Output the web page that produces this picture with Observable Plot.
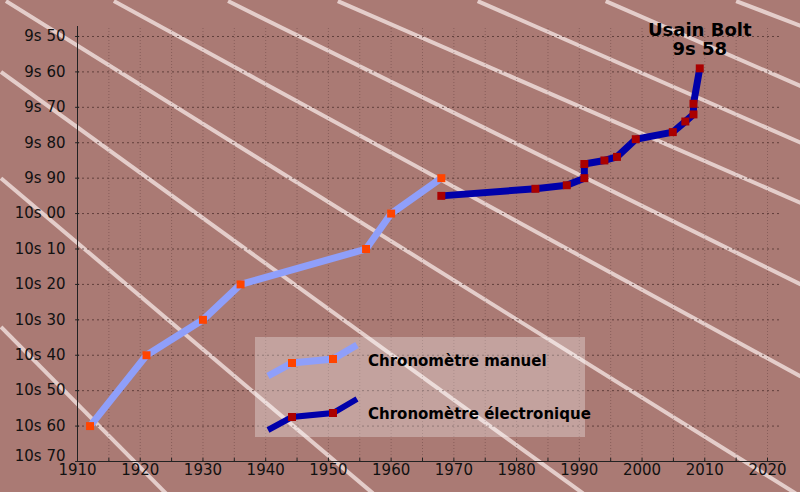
<!DOCTYPE html>
<html><head><meta charset="utf-8">
<script src="https://cdn.jsdelivr.net/npm/d3@7"></script>
<script src="https://cdn.jsdelivr.net/npm/@observablehq/plot@0.6"></script>
<style>
html,body{margin:0;padding:0;background:#aa7a74;}
#chart{width:800px;height:492px;overflow:hidden;}
#chart svg{display:block;}
</style></head><body><div id="chart"></div>
<script>
// ---- data ----
const manualYears = [1912, 1921, 1930, 1936, 1956, 1960, 1968];
const manualTimes = [10.6, 10.4, 10.3, 10.2, 10.1, 10.0, 9.9];
const electronicYears = [1968, 1983, 1988, 1990.8, 1990.8, 1994, 1996, 1999, 2004.9, 2006.9, 2008.2, 2008.2, 2009.2];
const electronicTimes = [9.95, 9.93, 9.92, 9.90, 9.86, 9.85, 9.84, 9.79, 9.77, 9.74, 9.72, 9.69, 9.59];
const annotationText = "Usain Bolt\n9s 58";
const seriesNames = ["Chronomètre manuel", "Chronomètre électronique"];
const yTicks = [9.5, 9.6, 9.7, 9.8, 9.9, 10.0, 10.1, 10.2, 10.3, 10.4, 10.5, 10.6, 10.7];
const yTickLabels = ["9s 50", "9s 60", "9s 70", "9s 80", "9s 90", "10s 00", "10s 10", "10s 20", "10s 30", "10s 40", "10s 50", "10s 60", "10s 70"];
const xTicks = [1910, 1920, 1930, 1940, 1950, 1960, 1970, 1980, 1990, 2000, 2010, 2020];
const xTickLabels = ["1910", "1920", "1930", "1940", "1950", "1960", "1970", "1980", "1990", "2000", "2010", "2020"];
const xMinor = [1915, 1920, 1925, 1930, 1935, 1940, 1945, 1950, 1955, 1960, 1965, 1970, 1975, 1980, 1985, 1990, 1995, 2000, 2005, 2010, 2015, 2020];
// decorative track lanes (start / end, in year & time units)
const laneStartYear = [1897.8, 1897.8, 1897.8, 1898.6, 1915.8, 1934.0, 1951.5, 1973.8, 1994.2, 2015.0];
const laneStartTime = [10.32, 9.90, 9.60, 9.40, 9.40, 9.40, 9.40, 9.40, 9.40, 9.40];
const laneEndYear = [1924.1, 1957.1, 1990.6, 2024.5, 2025.3, 2025.3, 2025.3, 2025.3, 2025.3, 2025.3];
const laneEndTime = [10.79, 10.79, 10.79, 10.79, 10.46, 10.20, 9.97, 9.80, 9.64, 9.47];

// ---- chart ----
const manualIdx = d3.range(manualYears.length);
const elecIdx = d3.range(electronicYears.length);
const laneIdx = d3.range(laneStartYear.length);
const yTop = 9.4718, yBottom = 10.70, xLeft = 1910, xRight = 2022.55;
const gridColor = "#4a2c2a";
const axisColor = "#222";
const manualColor = "#8f9ffa", manualMarker = "#ff4400";
const elecColor = "#0000aa", elecMarker = "#aa0000";
const yLabelFmt = d => yTickLabels[yTicks.indexOf(d)];

const plot = Plot.plot({
  width: 800, height: 492,
  marginLeft: 77, marginRight: 17, marginTop: 26, marginBottom: 31,
  style: {background: "#aa7a74", fontFamily: "DejaVu Sans", fontSize: "15px", color: "#111", overflow: "hidden"},
  x: {domain: [xLeft, xRight]},
  y: {domain: [yBottom, yTop]},
  marks: [
    Plot.link(laneIdx, {x1: i => laneStartYear[i], y1: i => laneStartTime[i], x2: i => laneEndYear[i], y2: i => laneEndTime[i],
      stroke: "#f2e2e0", strokeOpacity: 0.8, strokeWidth: 4}),
    Plot.ruleY(yTicks.slice(0, -1), {x1: xLeft, x2: 2022, stroke: gridColor, strokeOpacity: 0.75, strokeDasharray: "2,3"}),
    Plot.ruleX(xMinor, {y1: yBottom, y2: yTop, stroke: gridColor, strokeOpacity: 0.35, strokeDasharray: "1,2"}),
    Plot.ruleX([xLeft], {stroke: axisColor}),
    Plot.ruleY([yBottom], {stroke: axisColor}),
    Plot.ruleY(yTicks, {x1: 1909.7, x2: 1910.35, stroke: axisColor}),
    Plot.ruleX(xMinor, {y1: yBottom, y2: 10.691, stroke: axisColor}),
    Plot.axisY(yTicks.slice(0, -1), {tickSize: 0, tickPadding: 12, label: null, fontSize: 15, fill: "#111", tickFormat: yLabelFmt}),
    Plot.axisY(yTicks.slice(-1), {tickSize: 0, tickPadding: 12, label: null, fontSize: 15, fill: "#111", tickFormat: yLabelFmt, dy: -5}),
    Plot.axisX(xTicks, {tickSize: 0, tickPadding: 3, label: null, fontSize: 15, fill: "#111",
      tickFormat: d => xTickLabels[xTicks.indexOf(d)]}),
    Plot.line(manualIdx, {x: i => manualYears[i], y: i => manualTimes[i], stroke: manualColor, strokeWidth: 7,
      strokeLinejoin: "miter", strokeLinecap: "butt"}),
    Plot.line(elecIdx, {x: i => electronicYears[i], y: i => electronicTimes[i], stroke: elecColor, strokeWidth: 7,
      strokeLinejoin: "miter", strokeLinecap: "butt"}),
    Plot.dot(manualIdx, {x: i => manualYears[i], y: i => manualTimes[i], symbol: "square", r: 4.5, fill: manualMarker}),
    Plot.dot(elecIdx, {x: i => electronicYears[i], y: i => electronicTimes[i], symbol: "square", r: 4.5, fill: elecMarker}),
    Plot.text([elecIdx.length - 1], {x: i => electronicYears[i], y: i => electronicTimes[i], text: () => annotationText,
      lineAnchor: "bottom", dy: -13, fontWeight: "bold", fontSize: 18, lineHeight: 1.06, fill: "#000", textAnchor: "middle"})
  ]
});
document.getElementById("chart").appendChild(plot);

// ---- legend (inside the plot area) ----
const svg = d3.select(plot);
const lg = svg.append("g").attr("font-family", "DejaVu Sans").attr("font-weight", "bold").attr("font-size", 15)
  .attr("text-anchor", "start");
lg.append("rect").attr("x", 255).attr("y", 337).attr("width", 330).attr("height", 100).attr("fill", "#fff").attr("fill-opacity", 0.3);
const sample = [[268, 0], [292, -13], [333, -17], [357, -31]];
const legendRows = [
  {y0: 376, stroke: manualColor, marker: manualMarker, width: 7, label: seriesNames[0], ty: 366},
  {y0: 430, stroke: elecColor, marker: elecMarker, width: 6, label: seriesNames[1], ty: 419}
];
legendRows.forEach(r => {
  const pts = sample.map(([x, dy]) => [x, r.y0 + dy]);
  lg.append("path").attr("d", d3.line()(pts)).attr("fill", "none").attr("stroke", r.stroke)
    .attr("stroke-width", r.width).attr("stroke-linejoin", "miter");
  [pts[1], pts[2]].forEach(([x, y]) => lg.append("rect").attr("x", x - 4).attr("y", y - 4)
    .attr("width", 8).attr("height", 8).attr("fill", r.marker));
  lg.append("text").attr("x", 368).attr("y", r.ty).attr("fill", "#000").attr("text-anchor", "start").text(r.label);
});
</script></body></html>
